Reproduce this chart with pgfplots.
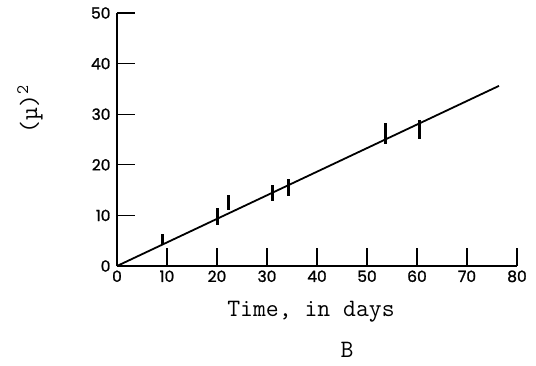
\documentclass[border=0pt]{standalone}
\usepackage{pgfplots}
\pgfplotsset{compat=1.18}
\usepackage{fontspec}
\newfontfamily\tickfont[FakeBold=1.2]{Poppins}
\begin{document}
\begin{tikzpicture}[x=1pt,y=1pt]
\path (-117,-99) rectangle (419,266);
\begin{axis}[
  at={(0,0)}, anchor=south west,
  scale only axis, width=400pt, height=253pt,
  xmin=0, xmax=80, ymin=0, ymax=50,
  axis x line*=bottom, axis y line*=left,
  axis line style={line width=1.3pt},
  xtick={0,10,...,80}, ytick={0,10,...,50},
  tick align=inside, major tick length=18pt,
  tick style={line width=1.1pt, black},
  /pgf/number format/assume math mode=true,
  ticklabel style={font=\tickfont\fontsize{15.5}{15.5}\selectfont},
  xticklabel style={yshift=-1pt},
  yticklabel style={xshift=-3pt},
  clip=false,
]
\addplot[black, line width=1.8pt] coordinates {(0,0) (76.4,35.6)};
\addplot[draw=none, mark=none, error bars/.cd, y dir=both, y explicit,
  error mark=none, error bar style={line width=3pt, black}]
  coordinates {
  (9.1,5.2) +- (0,1.1)
  (20.1,9.75) +- (0,1.65)
  (22.3,12.6) +- (0,1.45)
  (31.1,14.5) +- (0,1.6)
  (34.3,15.5) +- (0,1.6)
  (53.6,26.2) +- (0,2.15)
  (60.5,27.0) +- (0,1.9)
  };
\node[rotate=90, font=\ttfamily\fontsize{25}{25}\selectfont] at (rel axis cs:-0.2175,0.62) {(µ)\textsuperscript{2}};
\node[font=\ttfamily\fontsize{25}{25}\selectfont] at (rel axis cs:0.485,-0.182) {Time, in days};
\node[font=\ttfamily\fontsize{25}{25}\selectfont] at (rel axis cs:0.575,-0.332) {B};
\end{axis}
\end{tikzpicture}
\end{document}
